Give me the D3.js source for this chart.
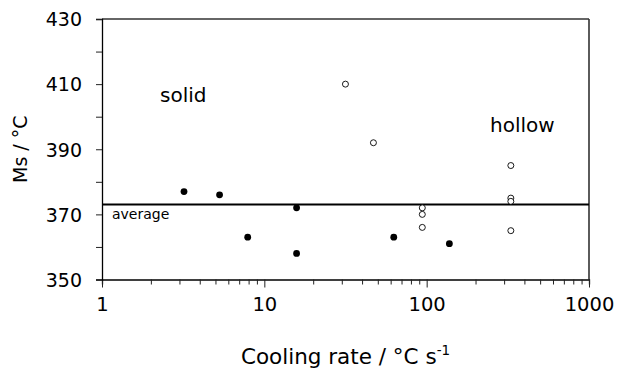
<!DOCTYPE html>
<html>
<head>
<meta charset="utf-8">
<script src="https://cdn.jsdelivr.net/npm/d3@7"></script>
<style>
  html, body { margin: 0; padding: 0; background: #fff; }
  svg { display: block; font-family: "DejaVu Sans", Verdana, sans-serif; }
</style>
</head>
<body>
<svg id="chart" width="618" height="370"></svg>
<script>
// ---- data ----
const solidRate = [3.2, 5.3, 7.9, 15.8, 15.8, 62.7, 138];
const solidMs   = [377, 376, 363, 372, 358, 363, 361];
const hollowRate = [31.6, 47, 94, 94, 94, 330, 330, 330, 330];
const hollowMs   = [410, 392, 372, 370, 366, 385, 375, 374, 365];
const averageMs = 373;
const xTickLabels = [1, 10, 100, 1000];
const yTickLabels = [350, 370, 390, 410, 430];
const yMinorTicks = [360, 380, 400, 420];

// ---- layout ----
const mLeft = 102, mRight = 589, mTop = 19, mBottom = 279.5;
const svg = d3.select("#chart");
const x = d3.scaleLog().domain([1, 1000]).range([mLeft, mRight]);
const y = d3.scaleLinear().domain([350, 430]).range([mBottom, mTop]);

// frame (top & right)
svg.append("line").attr("x1", mLeft).attr("x2", mRight).attr("y1", mTop).attr("y2", mTop)
  .attr("stroke", "#333").attr("stroke-width", 1.6);
svg.append("line").attr("x1", mRight).attr("x2", mRight).attr("y1", mTop).attr("y2", mBottom)
  .attr("stroke", "#333").attr("stroke-width", 1.6);

// x axis
const xAxis = d3.axisBottom(x)
  .tickValues(x.ticks())
  .tickSizeOuter(0)
  .tickSize(5)
  .tickFormat(d => xTickLabels.includes(d) ? d : "");
const gx = svg.append("g").attr("transform", `translate(0,${mBottom})`).call(xAxis);
gx.select(".domain").attr("stroke", "#000").attr("stroke-width", 1.3);
gx.selectAll(".tick line").attr("stroke", "#222").attr("stroke-width", 1)
  .attr("y2", d => xTickLabels.includes(d) ? 8 : 5);
gx.selectAll(".tick text").attr("font-size", 19.5).attr("fill", "#000")
  .attr("y", 18).attr("dy", "0.71em")
  .attr("font-family", "'DejaVu Sans', Verdana, sans-serif");

// y axis
const yAxis = d3.axisLeft(y)
  .tickValues(yTickLabels.concat(yMinorTicks))
  .tickSizeOuter(0)
  .tickSize(6)
  .tickFormat(d => yTickLabels.includes(d) ? d : "");
const gy = svg.append("g").attr("transform", `translate(${mLeft},0)`).call(yAxis);
gy.select(".domain").attr("stroke", "#000").attr("stroke-width", 1.3);
gy.selectAll(".tick line").attr("stroke", "#222").attr("stroke-width", 1);
gy.selectAll(".tick text").attr("font-size", 19).attr("fill", "#000")
  .attr("x", -20).attr("dy", "0.36em")
  .attr("font-family", "'DejaVu Sans', Verdana, sans-serif");

// average line
svg.append("line").attr("x1", mLeft).attr("x2", mRight)
  .attr("y1", y(averageMs)).attr("y2", y(averageMs))
  .attr("stroke", "#000").attr("stroke-width", 2);
svg.append("text").attr("x", 112).attr("y", y(averageMs) + 14)
  .attr("font-size", 14).text("average");

// points
svg.append("g").selectAll("circle").data(solidRate.map((r, i) => [r, solidMs[i]]))
  .join("circle")
  .attr("cx", d => x(d[0])).attr("cy", d => y(d[1])).attr("r", 3.4)
  .attr("fill", "#000");
svg.append("g").selectAll("circle").data(hollowRate.map((r, i) => [r, hollowMs[i]]))
  .join("circle")
  .attr("cx", d => x(d[0])).attr("cy", d => y(d[1])).attr("r", 3)
  .attr("fill", "#fff").attr("stroke", "#000").attr("stroke-width", 0.9);

// annotations
svg.append("text").attr("x", 160).attr("y", 102).attr("font-size", 20).text("solid");
svg.append("text").attr("x", 490).attr("y", 132).attr("font-size", 20).text("hollow");

// axis titles
const xt = svg.append("text").attr("x", (mLeft + mRight) / 2).attr("y", 364)
  .attr("text-anchor", "middle").attr("font-size", 21.5);
xt.append("tspan").text("Cooling rate / °C s");
xt.append("tspan").attr("font-size", 13.5).attr("dy", -9).text("-1");

svg.append("text").attr("transform", `translate(27,${(mTop + mBottom) / 2}) rotate(-90)`)
  .attr("text-anchor", "middle").attr("font-size", 19).text("Ms / °C");
</script>
</body>
</html>
